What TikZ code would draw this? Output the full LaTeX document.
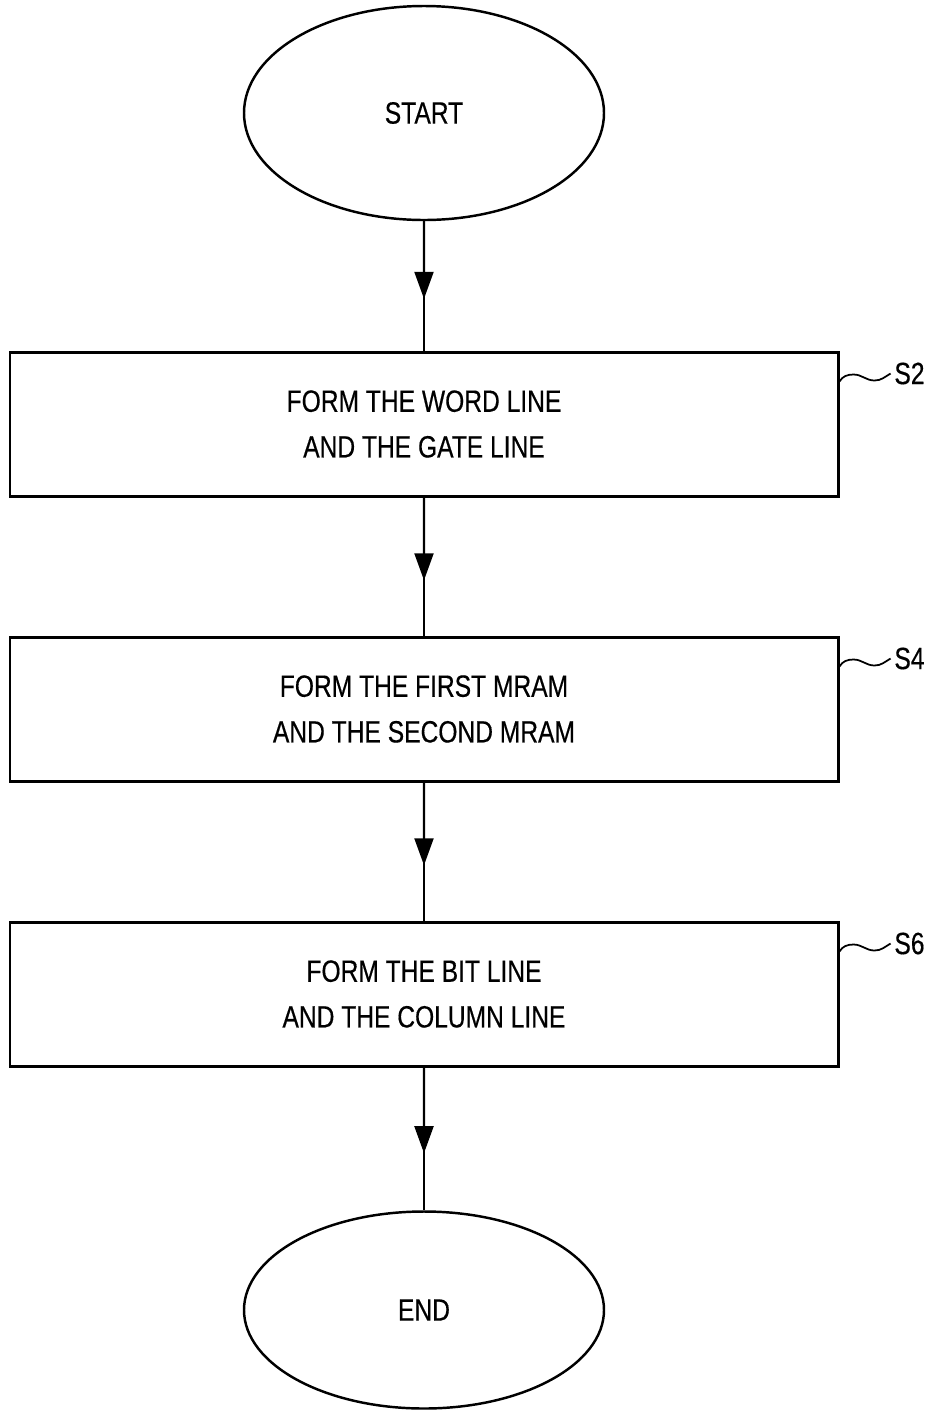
\documentclass[tikz,border=0pt]{standalone}
\usepackage{fontspec}
\setmainfont{Liberation Sans}[FakeStretch=0.8, FakeBold=0.4]
\usetikzlibrary{calc}
\usetikzlibrary{arrows.meta}
\usetikzlibrary{shapes.geometric}

\tikzset{
  term/.style={ellipse, draw, line width=1.4pt, minimum width=7.2cm, inner sep=0pt},
  stepbox/.style={rectangle, draw, line width=1.7pt, minimum width=16.56cm, minimum height=2.88cm, align=center},
  txt/.style={font=\fontsize{17.5}{26}\selectfont},
}

\begin{document}
\begin{tikzpicture}
\useasboundingbox (0,0) rectangle (18.64,-28.22);
\node[term, txt, minimum height=4.28cm] (start) at (8.48,-2.26) {START};
\node[stepbox, txt] (s2) at (8.48,-8.48) {FORM THE WORD LINE\\AND THE GATE LINE};
\node[stepbox, txt] (s4) at (8.48,-14.18) {FORM THE FIRST MRAM\\AND THE SECOND MRAM};
\node[stepbox, txt] (s6) at (8.48,-19.88) {FORM THE BIT LINE\\AND THE COLUMN LINE};
\node[term, txt, minimum height=3.94cm] (stop) at (8.48,-26.2) {END};
% arrows between the steps
\foreach \a/\b in {start/s2, s2/s4, s4/s6, s6/stop} {
 \draw[line width=1.2pt] (\a.south) -- (\b.north);
 \draw[line width=1.2pt, -{Triangle[length=0.54cm, width=0.38cm]}] (\a.south) -- ($(\a.south)!0.6!(\b.north)$);
}
% step labels
\foreach \n in {2,4,6} {
 \node[txt, inner sep=2pt] (l\n) at ($(s\n.north east)+(1.4,-0.46)$) {S\n};
 \draw[line width=1pt] ($(s\n.north east)+(0,-0.62)$) to[out=60,in=180] ++(0.28,0.14)
   to[out=0,in=180] ++(0.42,-0.12) to[out=0,in=210] (l\n.west);
}
\end{tikzpicture}
\end{document}
